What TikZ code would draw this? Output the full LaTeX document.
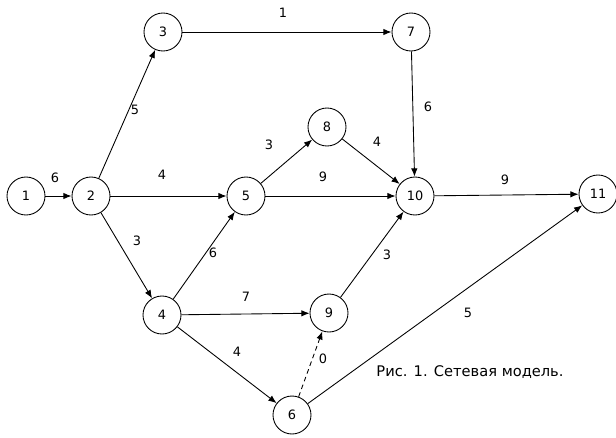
\documentclass[tikz,border=0pt]{standalone}
\usepackage{fontspec}
\setmainfont{DejaVu Sans}
\usetikzlibrary{arrows.meta}
\tikzset{
  ev/.style={draw, circle, line width=0.75pt, minimum size=1.14cm,
             inner sep=0pt, font=\fontsize{11}{13}\selectfont},
  act/.style={line width=0.75pt, -{Latex[length=7pt,width=5.5pt]}},
  fict/.style={act, dash pattern=on 4pt off 3pt},
  dur/.style={font=\fontsize{11}{13}\selectfont, inner sep=0pt},
}
\begin{document}
\begin{tikzpicture}[x=0.03cm, y=-0.03cm]
\useasboundingbox (0,0) rectangle (616,437);

\draw (26, 196) node[ev] (n1) {1};
\draw (91, 196) node[ev] (n2) {2};
\draw (163, 32) node[ev] (n3) {3};
\draw (162, 315) node[ev] (n4) {4};
\draw (246, 196) node[ev] (n5) {5};
\draw (292, 415) node[ev] (n6) {6};
\draw (411, 32) node[ev] (n7) {7};
\draw (327, 127) node[ev] (n8) {8};
\draw (329, 313) node[ev] (n9) {9};
\draw (415, 196) node[ev] (n10) {10};
\draw (598, 194) node[ev] (n11) {11};

\draw[act] (n1) -- (n2);
\draw[act] (n2) -- (n3);
\draw[act] (n2) -- (n5);
\draw[act] (n2) -- (n4);
\draw[act] (n3) -- (n7);
\draw[act] (n5) -- (n8);
\draw[act] (n5) -- (n10);
\draw[act] (n8) -- (n10);
\draw[act] (n7) -- (n10);
\draw[act] (n10) -- (n11);
\draw[act] (n4) -- (n5);
\draw[act] (n4) -- (n9);
\draw[act] (n4) -- (n6);
\draw[act] (n9) -- (n10);
\draw[fict] (n6) -- (n9);
\draw[act] (n6) -- (n11);

\draw (55, 178) node[dur] (d12) {6};
\draw (135, 110) node[dur] (d23) {5};
\draw (283, 13) node[dur] (d37) {1};
\draw (162, 175) node[dur] (d25) {4};
\draw (137, 241) node[dur] (d24) {3};
\draw (269, 145) node[dur] (d58) {3};
\draw (323, 177) node[dur] (d510) {9};
\draw (377, 142) node[dur] (d810) {4};
\draw (428, 107) node[dur] (d710) {6};
\draw (505, 180) node[dur] (d1011) {9};
\draw (213, 253) node[dur] (d45) {6};
\draw (246, 297) node[dur] (d49) {7};
\draw (237, 352) node[dur] (d46) {4};
\draw (387, 255) node[dur] (d910) {3};
\draw (323, 359) node[dur] (d69) {0};
\draw (468, 313) node[dur] (d611) {5};

\draw (470, 372) node[dur, font=\fontsize{12.5}{15}\selectfont] (cap) {Рис. 1. Сетевая модель.};
\end{tikzpicture}
\end{document}
